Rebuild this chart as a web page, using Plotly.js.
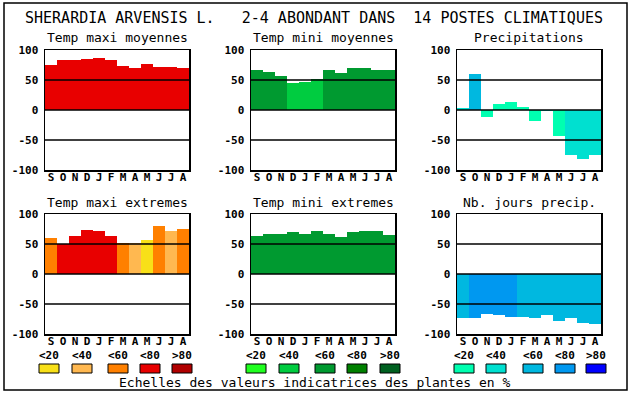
<!DOCTYPE html>
<html>
<head>
<meta charset="utf-8">
<script src="https://cdn.plot.ly/plotly-3.0.1.min.js"></script>
<style>html,body{margin:0;padding:0;background:#fff;}#chart{width:630px;height:394px;}</style>
</head>
<body>
<div id="chart"></div>
<script>
// ---- data ----
const months = ['S','O','N','D','J','F','M','A','M','J','J','A'];
const panelTitles = ['Temp maxi moyennes','Temp mini moyennes','Precipitations','Temp maxi extremes','Temp mini extremes','Nb. jours precip.'];
const mainTitle = 'SHERARDIA ARVENSIS L.   2-4 ABONDANT DANS  14 POSTES CLIMATIQUES';
const footerText = 'Echelles des valeurs indicatrices des plantes en %';
const rangeLabels = ['<20','<40','<60','<80','>80'];
const yTicks = [-100,-50,0,50,100];

const tempMaxiMoy = [75,83,83,85,87,83,73,70,77,72,72,70];
const tempMaxiMoyCls = [4,4,4,4,4,4,4,4,4,4,4,4];
const tempMiniMoy = [67,63,57,45,47,52,67,62,70,70,67,67];
const tempMiniMoyCls = [3,3,3,2,2,2,3,3,3,3,3,3];
const precip = [3,60,-11,10,13,5,-18,-2,-43,-75,-81,-75];
const precipCls = [2,3,1,1,1,1,1,2,1,2,2,2];
const tempMaxiExt = [60,50,64,74,72,64,52,52,57,80,72,75];
const tempMaxiExtCls = [3,4,4,4,4,4,3,2,1,3,2,3];
const tempMiniExt = [64,67,67,70,67,72,67,62,70,72,72,65];
const tempMiniExtCls = [3,3,3,3,3,3,3,3,3,3,3,3];
const nbJours = [-74,-73,-66,-68,-71,-71,-73,-68,-78,-74,-81,-83];
const nbJoursCls = [3,4,4,4,4,3,3,3,3,3,3,3];

// ---- styles ----
const redPal = ['#f8e018','#ffb850','#ff8000','#e80000','#b00000'];
const greenPal = ['#20ff20','#00cc40','#009a30','#008000','#006020'];
const bluePal = ['#00ffb0','#00e0d0','#00b8e0','#0098f0','#0000ff'];

const W = 630, H = 394;
const px = x => x / W;
const py = y => 1 - y / H;
const colX = [[45,189],[251,395],[457,601]];
const rowY = [[50,170],[214,334]];

const panels = [
  {v: tempMaxiMoy, c: tempMaxiMoyCls, pal: redPal},
  {v: tempMiniMoy, c: tempMiniMoyCls, pal: greenPal},
  {v: precip, c: precipCls, pal: bluePal},
  {v: tempMaxiExt, c: tempMaxiExtCls, pal: redPal},
  {v: tempMiniExt, c: tempMiniExtCls, pal: greenPal},
  {v: nbJours, c: nbJoursCls, pal: bluePal}
];

const mono = 'DejaVu Sans Mono, Liberation Mono, monospace';
const layout = {
  width: W, height: H,
  margin: {l:0, r:0, t:0, b:0},
  paper_bgcolor: '#fff', plot_bgcolor: '#fff',
  showlegend: false, bargap: 0,
  shapes: [], annotations: []
};
const data = [];
const idx = months.map((m,i) => i);

panels.forEach((p, i) => {
  const col = i % 3, row = Math.floor(i / 3);
  const n = i + 1;
  const xa = 'xaxis' + (n === 1 ? '' : n), ya = 'yaxis' + (n === 1 ? '' : n);
  const xr = 'x' + (n === 1 ? '' : n), yr = 'y' + (n === 1 ? '' : n);
  data.push({
    type: 'bar', x: idx, y: p.v, xaxis: xr, yaxis: yr,
    marker: {color: p.c.map(k => p.pal[k-1]), line: {width: 0}},
    hoverinfo: 'y'
  });
  layout[xa] = {
    domain: [px(colX[col][0]), px(colX[col][1])], anchor: yr,
    range: [-0.5, 11.5], tickvals: idx, ticktext: months,
    tickfont: {family: mono, size: 11, weight: 'bold', color: '#000'},
    ticks: '', ticklabelstandoff: -4, showgrid: false, zeroline: false,
    showline: true, mirror: true, linecolor: '#000', linewidth: 1.5,
    fixedrange: true
  };
  layout[ya] = {
    domain: [py(rowY[row][1]), py(rowY[row][0])], anchor: xr,
    range: [-100, 100], tickvals: yTicks, ticktext: yTicks.map(String),
    tickfont: {family: mono, size: 11, weight: 'bold', color: '#000'},
    ticks: '', ticklabelstandoff: 3, showgrid: false, zeroline: false,
    showline: true, mirror: true, linecolor: '#000', linewidth: 1.5,
    fixedrange: true
  };
  [50, 0, -50].forEach(v => layout.shapes.push({
    type: 'line', xref: xr + ' domain', yref: yr, x0: 0, x1: 1, y0: v, y1: v,
    line: {color: '#000', width: 1.5}, layer: 'above'
  }));
  layout.annotations.push({
    text: panelTitles[i], xref: 'paper', yref: 'paper',
    x: px((colX[col][0] + colX[col][1]) / 2), y: py(rowY[row][0] - 12),
    xanchor: 'center', yanchor: 'middle', showarrow: false,
    font: {family: mono, size: 13, color: '#000'}
  });
});

// range labels and legend boxes
const boxX = [[39,72,108,140,172],[246,279,315,347,380],[454,486,523,555,586]];
const pals = [redPal, greenPal, bluePal];
boxX.forEach((xs, g) => {
  xs.forEach((x0, k) => {
    layout.shapes.push({
      type: 'rect', xref: 'paper', yref: 'paper',
      x0: px(x0), x1: px(x0 + 20), y0: py(373), y1: py(364),
      fillcolor: pals[g][k], line: {color: '#000', width: 1}
    });
    layout.annotations.push({
      text: rangeLabels[k], xref: 'paper', yref: 'paper',
      x: px(x0 + 10), y: py(355), xanchor: 'center', yanchor: 'middle',
      showarrow: false, font: {family: mono, size: 11, weight: 'bold', color: '#000'}
    });
  });
});

// main title and footer
layout.annotations.push({
  text: mainTitle.replace(/ /g, '\u00a0'), xref: 'paper', yref: 'paper',
  x: px(314), y: py(18), xanchor: 'center', yanchor: 'middle', showarrow: false,
  font: {family: mono, size: 15, color: '#000'}
});
layout.annotations.push({
  text: footerText, xref: 'paper', yref: 'paper',
  x: px(315), y: py(382), xanchor: 'center', yanchor: 'middle', showarrow: false,
  font: {family: mono, size: 13, color: '#000'}
});
// outer frame
layout.shapes.push({
  type: 'rect', xref: 'paper', yref: 'paper',
  x0: px(4), x1: px(627), y0: py(390), y1: py(3),
  line: {color: '#000', width: 1.5}, fillcolor: 'rgba(0,0,0,0)'
});

Plotly.newPlot('chart', data, layout, {displayModeBar: false, staticPlot: true});
</script>
</body>
</html>
